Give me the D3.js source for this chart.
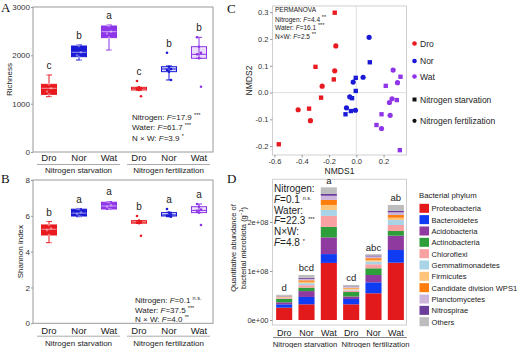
<!DOCTYPE html>
<html>
<head>
<meta charset="utf-8">
<script src="https://cdnjs.cloudflare.com/ajax/libs/d3/7.8.5/d3.min.js"></script>
<style>
body { margin: 0; background: #fff; }
svg { display: block; font-family: "Liberation Sans", Arial, sans-serif; }
.frame { fill: none; stroke: #9a9a9a; stroke-width: 1; }
.frame.light { stroke: #cfcfcf; }
</style>
</head>
<body>
<div id="chart"></div>
<script>
// treatments, same order in every panel
var groups = ["Dro", "Nor", "Wat", "Dro", "Nor", "Wat"];
var nitrogenLevels = ["Nitrogen starvation", "Nitrogen fertilization"];

// richness box stats: [low whisker, q1, median, q3, high whisker]
var richnessStats = [
    [1145, 1193, 1318, 1400, 1593],
    [1903, 1972, 2063, 2193, 2214],
    [2110, 2366, 2490, 2607, 2628],
    [1283, 1283, 1310, 1338, 1338],
    [1490, 1662, 1717, 1765, 1780],
    [1939, 1939, 2021, 2179, 2373]
];
var richnessPoints = [
    [1593, 1400, 1318, 1250, 1193, 1145],
    [2214, 2193, 2063, 2000, 1972, 1903],
    [2628, 2607, 2490, 2450, 2366, 2110],
    [1469, 1338, 1310, 1300, 1283, 1152],
    [2055, 1765, 1717, 1700, 1662, 1490],
    [2373, 2179, 2050, 2021, 1939, 1351]
];
var richnessLetters = ["c", "b", "a", "c", "b", "b"];
var richnessTicks = [0, 1000, 2000, 3000];
var richnessNotes = [["Nitrogen: ", "17.9", "***"], ["Water: ", "61.7", "***"], ["N \u00d7 W: ", "3.9", "*"]];

var shannonStats = [
    [4.50, 4.93, 5.25, 5.49, 5.68],
    [5.95, 5.99, 6.15, 6.37, 6.40],
    [6.35, 6.38, 6.55, 6.76, 6.80],
    [5.59, 5.59, 5.65, 5.73, 5.73],
    [5.95, 5.99, 6.05, 6.18, 6.20],
    [6.18, 6.18, 6.30, 6.51, 6.66]
];
var shannonPoints = [
    [5.68, 5.49, 5.30, 5.20, 4.93, 4.50],
    [6.40, 6.37, 6.20, 6.10, 5.99, 5.95],
    [6.80, 6.76, 6.60, 6.50, 6.38, 6.35],
    [5.99, 5.73, 5.65, 5.62, 5.59, 4.89],
    [6.38, 6.18, 6.08, 6.02, 5.99, 5.95],
    [6.66, 6.51, 6.35, 6.28, 6.18, 5.49]
];
var shannonLetters = ["b", "a", "a", "b", "a", "a"];
var shannonTicks = [0, 2, 4, 6, 8];
var shannonNotes = [["Nitrogen: ", "0.1", "n.s."], ["Water: ", "37.5", "***"], ["N \u00d7 W: ", "4.0", "**"]];

// NMDS scores: [NMDS1, NMDS2, nitrogen (0 starvation, 1 fertilization)]
var nmdsDro = [
    [-0.158, 0.298, 0], [-0.150, 0.174, 1], [-0.299, 0.096, 0], [-0.158, 0.081, 1],
    [-0.165, 0.049, 0], [-0.250, 0.024, 1], [-0.258, -0.019, 0], [-0.426, -0.064, 1],
    [-0.346, -0.060, 0], [-0.336, -0.105, 1], [-0.568, -0.193, 0]
];
var nmdsNor = [
    [0.094, 0.206, 1], [0.099, 0.113, 0], [0.050, 0.057, 1], [-0.004, 0.055, 0],
    [-0.023, 0.039, 1], [-0.004, 0.006, 0], [-0.048, -0.016, 1], [-0.031, -0.021, 0],
    [-0.072, -0.057, 1], [-0.040, -0.069, 0], [-0.006, -0.066, 1], [-0.079, -0.081, 0]
];
var nmdsWat = [
    [0.270, 0.084, 1], [0.324, 0.059, 0], [0.302, 0.037, 1], [0.216, 0.025, 0],
    [0.262, -0.023, 1], [0.297, -0.028, 0], [0.243, -0.037, 1], [0.185, -0.081, 0],
    [0.248, -0.085, 1], [0.148, -0.121, 0], [0.185, -0.134, 1], [0.319, -0.215, 0]
];
var nmdsXTicks = [-0.6, -0.4, -0.2, 0.0, 0.2];
var nmdsYTicks = [-0.2, -0.1, 0.0, 0.1, 0.2, 0.3];
var permanovaNotes = [["Nitrogen: ", "4.4", "**"], ["Water: ", "16.1", "***"], ["N\u00d7W: ", "2.5", "**"]];

// quantitative abundance, 10^6 per g, one row per treatment, columns follow phyla
var phyla = ["Proteobacteria", "Bacteroidetes", "Acidobacteria", "Actinobacteria", "Chloroflexi",
    "Gemmatimonadetes", "Firmicutes", "Candidate division WPS1", "Planctomycetes", "Nitrospirae", "Others"];
var abundance = [
    [25.2, 6.8, 4.1, 6.8, 1.6, 1.0, 1.0, 1.0, 1.0, 0.8, 2.2],
    [32.0, 15.0, 12.0, 7.0, 5.0, 4.0, 3.0, 3.0, 3.0, 2.0, 6.0],
    [116.5, 18.0, 34.1, 21.4, 22.4, 12.2, 10.2, 10.2, 8.5, 4.3, 12.9],
    [32.0, 10.8, 5.1, 9.2, 3.1, 2.0, 2.0, 1.6, 1.6, 1.0, 3.1],
    [54.5, 22.4, 14.9, 13.7, 8.2, 5.5, 3.5, 3.5, 3.5, 2.0, 2.7],
    [116.9, 25.9, 29.2, 9.6, 12.2, 10.2, 4.7, 5.5, 5.5, 3.5, 11.6]
];
var abundanceLetters = ["d", "bcd", "a", "cd", "abc", "ab"];
var abundanceTicks = [0, 100, 200];
var abundanceTickLabels = ["0e+00", "1e+08", "2e+08"];
var abundanceNotes = ["Nitrogen:", ["0.1", "n.s."], "Water:", ["22.3", "***"], "N\u00d7W:", ["4.8", "*"]];

var waterColors = ["#e8191f", "#1a1ad6", "#8f35e8"];
var phylumColors = ["#e31a1c", "#0f3cf2", "#8e3a9e", "#2e9e3a", "#f8a0a2", "#a9d3e6",
    "#fdc47a", "#ff7d0a", "#cdb5dc", "#6a3d9a", "#bdbdbd"];

var svg = d3.select("#chart").append("svg")
    .attr("width", 520)
    .attr("height", 348);

svg.append("rect").attr("width", 520).attr("height", 348).attr("fill", "#fff");

function panelLetter(label, x, y) {
    svg.append("text")
        .attr("x", x).attr("y", y)
        .style("font-family", "'Liberation Serif', 'Times New Roman', serif")
        .style("font-size", "13px")
        .attr("fill", "#111")
        .text(label);
}

function styleAxis(sel, size) {
    sel.attr("font-family", null).attr("font-size", null);
    sel.select(".domain").remove();
    sel.selectAll("line").attr("stroke", "#999");
    sel.selectAll("text").style("font-size", size).attr("fill", "#333");
}

// F statistic line: label, italic F, value, superscript stars
function noteLine(g, x, y, label, value, stars, size) {
    var t = g.append("text").attr("x", x).attr("y", y)
        .style("font-size", size).attr("fill", "#222");
    if (label) t.append("tspan").text(label);
    t.append("tspan").style("font-style", "italic").text("F");
    t.append("tspan").text("=" + value + " ");
    t.append("tspan").attr("dy", -3).style("font-size", "5.5px").text(stars);
}

function drawBoxPanel(p) {
    var g = svg.append("g");
    var x = d3.scaleBand().domain(d3.range(groups.length)).range([p.left + 1, p.right + 1]);
    var y = d3.scaleLinear().domain(p.domain).range([p.bottom, p.top]);
    var half = 7.5;

    g.append("rect").attr("class", "frame")
        .attr("x", p.left).attr("y", p.top)
        .attr("width", p.right - p.left).attr("height", p.bottom - p.top);

    var yAxis = g.append("g")
        .attr("transform", "translate(" + p.left + ",0)")
        .call(d3.axisLeft(y).tickValues(p.ticks).tickSize(2).tickPadding(1).tickFormat(d3.format("d")));
    styleAxis(yAxis, "8px");

    var box = g.selectAll(".box")
        .data(p.stats)
        .enter().append("g")
        .attr("class", "box")
        .attr("transform", function(d, i) { return "translate(" + (x(i) + x.bandwidth() / 2) + ",0)"; });

    box.append("line")
        .attr("y1", function(d) { return y(d[0]); })
        .attr("y2", function(d) { return y(d[4]); })
        .attr("stroke", function(d, i) { return waterColors[i % 3]; })
        .attr("stroke-width", 1);

    [0, 4].forEach(function(k) {
        box.append("line")
            .attr("x1", -3).attr("x2", 3)
            .attr("y1", function(d) { return y(d[k]); })
            .attr("y2", function(d) { return y(d[k]); })
            .attr("stroke", function(d, i) { return waterColors[i % 3]; });
    });

    box.append("rect")
        .attr("x", -half).attr("width", half * 2)
        .attr("y", function(d) { return y(d[3]); })
        .attr("height", function(d) { return Math.max(1.5, y(d[1]) - y(d[3])); })
        .attr("fill", function(d, i) {
            var c = d3.color(waterColors[i % 3]);
            if (i >= 3) c.opacity = 0.16;
            return c + "";
        })
        .attr("stroke", function(d, i) { return waterColors[i % 3]; })
        .attr("stroke-width", 1);

    box.append("line")
        .attr("x1", -half).attr("x2", half)
        .attr("y1", function(d) { return y(d[2]); })
        .attr("y2", function(d) { return y(d[2]); })
        .attr("stroke", function(d, i) { return i < 3 ? "rgba(255,255,255,0.55)" : waterColors[i % 3]; })
        .attr("stroke-width", 1);

    var pts = [];
    p.points.forEach(function(arr, i) {
        arr.forEach(function(v, j) { pts.push({ i: i, v: v, j: j }); });
    });
    g.selectAll(".pt")
        .data(pts)
        .enter().append("circle")
        .attr("cx", function(d) { return x(d.i) + x.bandwidth() / 2 + ((d.j % 3) - 1) * 2; })
        .attr("cy", function(d) { return y(d.v); })
        .attr("r", 1.3)
        .attr("fill", function(d) { return d.i < 3 ? "rgba(255,255,255,0.35)" : waterColors[d.i % 3]; });

    g.selectAll(".letter")
        .data(p.letters)
        .enter().append("text")
        .attr("x", function(d, i) { return x(i) + x.bandwidth() / 2; })
        .attr("y", function(d, i) { return y(Math.max(p.stats[i][4], d3.max(p.points[i]))) - 6; })
        .attr("text-anchor", "middle")
        .style("font-size", "10px")
        .attr("fill", "#222")
        .text(function(d) { return d; });

    g.selectAll(".xlab")
        .data(groups)
        .enter().append("text")
        .attr("x", function(d, i) { return x(i) + x.bandwidth() / 2; })
        .attr("y", p.bottom + p.xlabGap[0])
        .attr("text-anchor", "middle")
        .style("font-size", "9.5px")
        .attr("fill", "#222")
        .text(function(d) { return d; });

    nitrogenLevels.forEach(function(name, k) {
        var x0 = x(k * 3) + 3, x1 = x(k * 3 + 2) + x.bandwidth() - 4;
        g.append("line")
            .attr("x1", x0).attr("x2", x1)
            .attr("y1", p.bottom + p.xlabGap[1]).attr("y2", p.bottom + p.xlabGap[1])
            .attr("stroke", "#aaa");
        g.append("text")
            .attr("x", (x0 + x1) / 2).attr("y", p.bottom + p.xlabGap[2])
            .attr("text-anchor", "middle")
            .style("font-size", "8px")
            .attr("fill", "#222")
            .text(name);
    });

    p.notes.forEach(function(n, k) {
        noteLine(g, p.noteX, p.noteY + k * p.noteStep, n[0], n[1], n[2], "8px");
    });

    g.append("text")
        .attr("transform", "translate(" + p.ylabelX + "," + ((p.top + p.bottom) / 2) + ") rotate(-90)")
        .attr("text-anchor", "middle")
        .style("font-size", "8px")
        .attr("fill", "#222")
        .text(p.ylabel);
}

function drawNmds() {
    var left = 272.5, right = 406.5, top = 6, bottom = 155;
    var g = svg.append("g");
    var x = d3.scaleLinear().domain([-0.614, 0.368]).range([left, right]);
    var y = d3.scaleLinear().domain([-0.233, 0.323]).range([bottom, top]);
    var fmt = function(d) { return d3.format(".1f")(d).replace("\u2212", "-"); };

    g.append("line").attr("x1", x(0)).attr("x2", x(0)).attr("y1", top).attr("y2", bottom)
        .attr("stroke", "#e0e0e0");
    g.append("line").attr("x1", left).attr("x2", right).attr("y1", y(0)).attr("y2", y(0))
        .attr("stroke", "#e0e0e0");
    g.append("rect").attr("class", "frame light")
        .attr("x", left).attr("y", top).attr("width", right - left).attr("height", bottom - top);

    var xAxis = g.append("g")
        .attr("transform", "translate(0," + bottom + ")")
        .call(d3.axisBottom(x).tickValues(nmdsXTicks).tickSize(2.5).tickPadding(1.5).tickFormat(fmt));
    styleAxis(xAxis, "7.5px");
    xAxis.selectAll("text").text(fmt);

    var yAxis = g.append("g")
        .attr("transform", "translate(" + left + ",0)")
        .call(d3.axisLeft(y).tickValues(nmdsYTicks).tickSize(2.5).tickPadding(1.5).tickFormat(fmt));
    styleAxis(yAxis, "7.5px");
    yAxis.selectAll("text").text(fmt);

    [nmdsDro, nmdsNor, nmdsWat].forEach(function(set, k) {
        g.selectAll(".p" + k)
            .data(set)
            .enter().append("path")
            .attr("transform", function(d) { return "translate(" + x(d[0]) + "," + y(d[1]) + ")"; })
            .attr("d", function(d) {
                return d3.symbol().type(d[2] === 0 ? d3.symbolSquare : d3.symbolCircle).size(d[2] === 0 ? 19 : 21)();
            })
            .attr("fill", waterColors[k]);
    });

    g.append("text").attr("x", 275).attr("y", 11.8).style("font-size", "6.5px").attr("fill", "#222").text("PERMANOVA");
    permanovaNotes.forEach(function(n, k) {
        noteLine(g, 275, 21.5 + k * 8.8, n[0], n[1], n[2], "6.5px");
    });

    g.append("text")
        .attr("x", (left + right) / 2).attr("y", 174)
        .attr("text-anchor", "middle")
        .style("font-size", "8.5px").attr("fill", "#222")
        .text("NMDS1");
    g.append("text")
        .attr("transform", "translate(252," + ((top + bottom) / 2) + ") rotate(-90)")
        .attr("text-anchor", "middle")
        .style("font-size", "8.5px").attr("fill", "#222")
        .text("NMDS2");

    // legend
    var legY = [43.5, 61, 76.5];
    ["Dro", "Nor", "Wat"].forEach(function(name, k) {
        g.append("circle").attr("cx", 414.5).attr("cy", legY[k]).attr("r", 2.3).attr("fill", waterColors[k]);
        g.append("text").attr("x", 420).attr("y", legY[k] + 3).style("font-size", "8.5px").attr("fill", "#222").text(name);
    });
    g.append("rect").attr("x", 412.5).attr("y", 97.5).attr("width", 4).attr("height", 4).attr("fill", "#111");
    g.append("text").attr("x", 420).attr("y", 102.5).style("font-size", "8.5px").attr("fill", "#222").text(nitrogenLevels[0]);
    g.append("circle").attr("cx", 414.5).attr("cy", 120.8).attr("r", 2.1).attr("fill", "#111");
    g.append("text").attr("x", 420).attr("y", 123.8).style("font-size", "8.5px").attr("fill", "#222").text(nitrogenLevels[1]);
}

function drawBars() {
    var left = 272.5, right = 406.5, top = 179.3, bottom = 325;
    var g = svg.append("g");
    var x = d3.scaleBand().domain(d3.range(groups.length)).range([273, 407]).paddingInner(0.28).paddingOuter(0.14);
    var y = d3.scaleLinear().domain([-10.2, 287.1]).range([bottom, top]);

    g.append("rect").attr("class", "frame light")
        .attr("x", left).attr("y", top).attr("width", right - left).attr("height", bottom - top);

    var yAxis = g.append("g")
        .attr("transform", "translate(" + left + ",0)")
        .call(d3.axisLeft(y).tickValues(abundanceTicks).tickSize(2.5).tickPadding(1.5)
            .tickFormat(function(d, i) { return abundanceTickLabels[i]; }));
    styleAxis(yAxis, "7.5px");

    var stack = d3.stack().keys(d3.range(phyla.length))(abundance);

    g.selectAll(".layer")
        .data(stack)
        .enter().append("g")
        .attr("fill", function(d, k) { return phylumColors[k]; })
        .selectAll("rect")
        .data(function(d) { return d; })
        .enter().append("rect")
        .attr("x", function(d, i) { return x(i); })
        .attr("width", x.bandwidth())
        .attr("y", function(d) { return y(d[1]); })
        .attr("height", function(d) { return y(d[0]) - y(d[1]); });

    g.selectAll(".letter")
        .data(abundanceLetters)
        .enter().append("text")
        .attr("x", function(d, i) { return x(i) + x.bandwidth() / 2; })
        .attr("y", function(d, i) { return y(d3.sum(abundance[i])) - 3.5; })
        .attr("text-anchor", "middle")
        .style("font-size", "9.5px").attr("fill", "#222")
        .text(function(d) { return d; });

    g.selectAll(".xlab")
        .data(groups)
        .enter().append("text")
        .attr("x", function(d, i) { return x(i) + x.bandwidth() / 2; })
        .attr("y", 335.5)
        .attr("text-anchor", "middle")
        .style("font-size", "9px").attr("fill", "#222")
        .text(function(d) { return d; });

    var groupShift = [-1.5, 2];
    nitrogenLevels.forEach(function(name, k) {
        var x0 = x(k * 3) - 3, x1 = x(k * 3 + 2) + x.bandwidth() + 3;
        g.append("line")
            .attr("x1", x0).attr("x2", x1).attr("y1", 337.5).attr("y2", 337.5)
            .attr("stroke", "#888");
        g.append("text")
            .attr("x", (x0 + x1) / 2 + groupShift[k]).attr("y", 346.5)
            .attr("text-anchor", "middle")
            .style("font-size", "7.7px").attr("fill", "#222")
            .text(name);
    });

    abundanceNotes.forEach(function(n, k) {
        var yy = 192 + k * 10.8;
        if (typeof n === "string") {
            g.append("text").attr("x", 274).attr("y", yy).style("font-size", "10px").attr("fill", "#222").text(n);
        } else {
            noteLine(g, 274, yy, "", n[0], n[1], "10px");
        }
    });

    var lab = g.append("text")
        .attr("transform", "translate(236,248) rotate(-90)")
        .attr("text-anchor", "middle")
        .style("font-size", "7.5px").attr("fill", "#222");
    lab.append("tspan").attr("x", 0).attr("dy", 0).text("Quantitative abundance of");
    lab.append("tspan").attr("x", 0).attr("dy", 10).text("bacterial microbiota (g");
    lab.append("tspan").attr("dy", -3).style("font-size", "5px").text("\u22121");
    lab.append("tspan").attr("dy", 3).text(")");

    // legend
    g.append("text").attr("x", 419).attr("y", 197.5).style("font-size", "7.8px").attr("fill", "#222").text("Bacterial phylum");
    phyla.forEach(function(name, k) {
        var cy = 208.3 + k * 11.34;
        g.append("rect").attr("x", 419.5).attr("y", cy - 4.5).attr("width", 9.5).attr("height", 9).attr("fill", phylumColors[k]);
        g.append("text").attr("x", 431.5).attr("y", cy + 3).style("font-size", "7.6px").attr("fill", "#222").text(name);
    });
}

drawBoxPanel({
    left: 33, right: 213, top: 7, bottom: 152,
    domain: [0, 3000], ticks: richnessTicks,
    stats: richnessStats, points: richnessPoints, letters: richnessLetters,
    notes: richnessNotes, noteX: 132, noteY: 120, noteStep: 10.3,
    xlabGap: [8.5, 12.5, 21],
    ylabel: "Richness", ylabelX: 11.5
});

drawBoxPanel({
    left: 33, right: 213, top: 180, bottom: 323.3,
    domain: [0, 8], ticks: shannonTicks,
    stats: shannonStats, points: shannonPoints, letters: shannonLetters,
    notes: shannonNotes, noteX: 135, noteY: 303.3, noteStep: 9.4,
    xlabGap: [10.2, 12.9, 22.7],
    ylabel: "Shannon index", ylabelX: 23
});

drawNmds();
drawBars();

panelLetter("A", 1, 11.5);
panelLetter("B", 1, 183);
panelLetter("C", 227, 13);
panelLetter("D", 227, 183);
</script>
</body>
</html>
